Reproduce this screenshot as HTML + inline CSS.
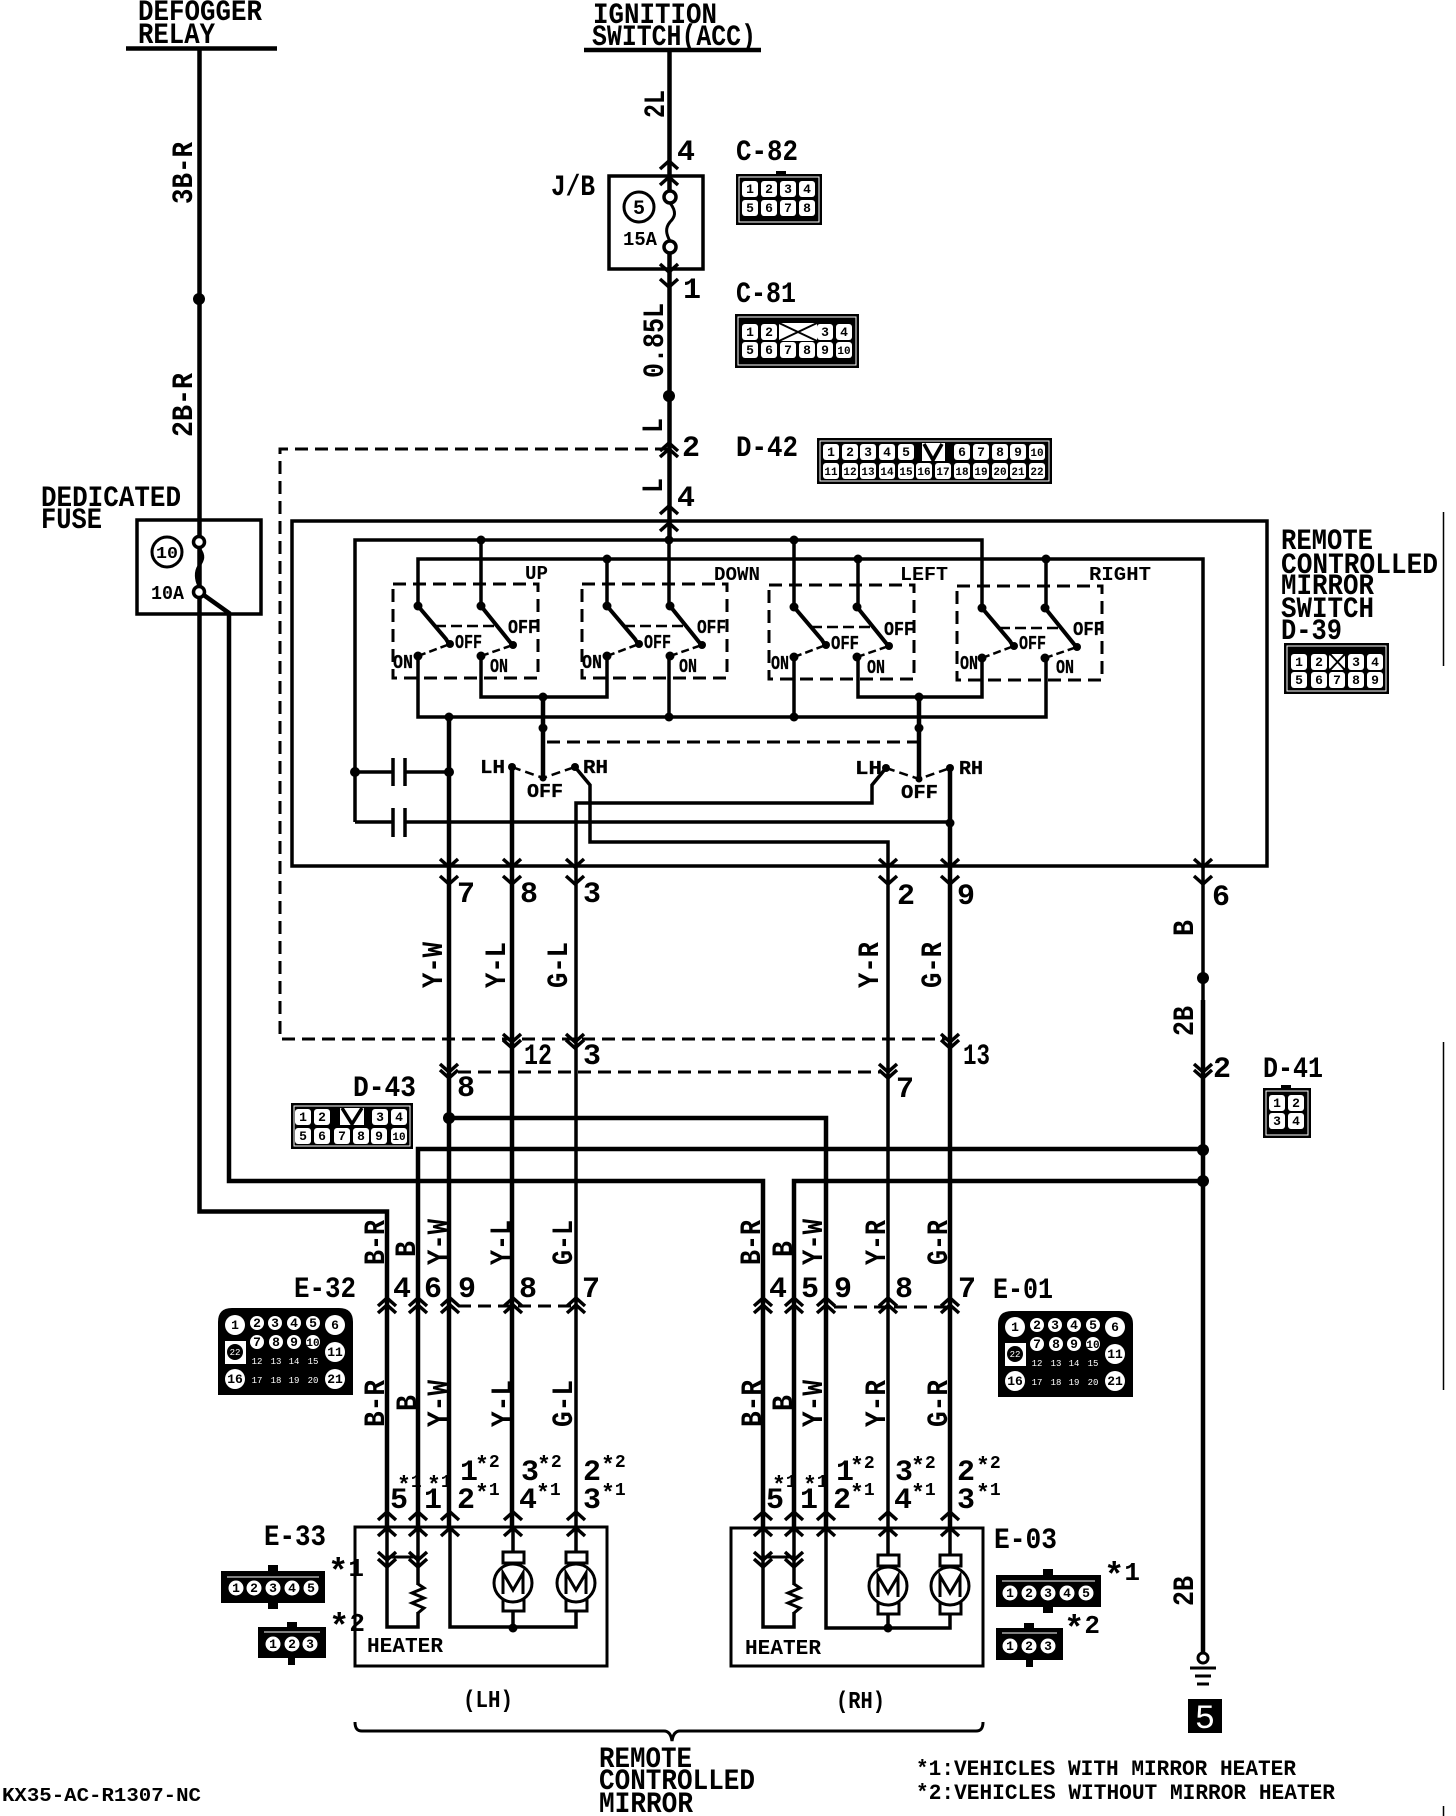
<!DOCTYPE html>
<html><head><meta charset="utf-8"><style>
html,body{margin:0;padding:0;background:#fff}
svg{display:block}
text{font-family:"Liberation Mono",monospace;font-weight:bold;fill:#000}
.h{font-size:30px}.n{font-size:30px}.r{font-size:30px}.s{font-size:18px}.k{font-size:19px;stroke:#000;stroke-width:.3px}.c{font-size:13px;text-anchor:middle}.d{font-size:11px;text-anchor:middle}.w{font-size:9px;text-anchor:middle;fill:#fff;font-weight:normal}
.o{fill:none;stroke:#000;stroke-width:3.5;stroke-linejoin:miter}
.t{fill:none;stroke:#000;stroke-width:4.5}
.da{fill:none;stroke:#000;stroke-width:3;stroke-dasharray:13 7}
</style></head><body>
<svg width="1456" height="1816" viewBox="0 0 1456 1816" xmlns="http://www.w3.org/2000/svg">
<defs>
<path id="u" d="M-9 8L0 0L9 8" fill="none" stroke="#000" stroke-width="3.5"/>
<path id="v" d="M-9 -8L0 0L9 -8" fill="none" stroke="#000" stroke-width="3.5"/>
<g id="uu"><use href="#u" y="0"/><use href="#u" y="7"/></g>
<g id="sw">
<rect x="-25" y="-22" width="145" height="94" fill="none" stroke="#000" stroke-width="3" stroke-dasharray="13 7"/>
<path d="M0 0L28 33L31 38" fill="none" stroke="#000" stroke-width="4"/>
<path d="M63 0L92 36L95 39" fill="none" stroke="#000" stroke-width="4"/>
<circle cx="0" cy="0" r="4.5"/><circle cx="63" cy="0" r="4.5"/>
<circle cx="32" cy="38" r="4"/><circle cx="95" cy="39" r="4"/>
<circle cx="0" cy="50" r="4.5"/><circle cx="63" cy="50" r="4.5"/>
<path d="M0 50L32 38M63 50L95 39" fill="none" stroke="#000" stroke-width="2.5" stroke-dasharray="8 4"/>
<path d="M17 20H78" fill="none" stroke="#000" stroke-width="2.5" stroke-dasharray="11 5"/>
</g>
<rect id="q" x="-8" y="-8" width="16" height="16" rx="3" fill="#fff"/>
<g id="mo">
<rect x="-10" y="-31" width="21" height="11" fill="#fff" stroke="#000" stroke-width="3"/>
<rect x="-10" y="17" width="21" height="11" fill="#fff" stroke="#000" stroke-width="3"/>
<circle r="19" fill="#fff" stroke="#000" stroke-width="3"/>
<path d="M-10 11V-10L0 7L10 -10V11" fill="none" stroke="#000" stroke-width="3"/>
</g>
</defs>

<!-- top titles -->
<text class="h" x="138" y="20" textLength="124" lengthAdjust="spacingAndGlyphs">DEFOGGER</text>
<text class="h" x="138" y="43" textLength="77" lengthAdjust="spacingAndGlyphs">RELAY</text>
<path class="t" d="M126 48.500H277"/>
<text class="h" x="593" y="23" textLength="124" lengthAdjust="spacingAndGlyphs">IGNITION</text>
<text class="h" x="592" y="45" textLength="164" lengthAdjust="spacingAndGlyphs">SWITCH(ACC)</text>
<path class="t" d="M584 50H761"/>

<!-- defogger wires -->
<path class="t" d="M199.500 48V592M199.500 592V1211.500H387V1530"/>
<path class="t" d="M199.500 592L229 613V1181H763V1530"/>
<path class="o" d="M387 1530V1627H418V1612M763 1530V1627H794V1612"/>
<circle cx="199" cy="299" r="6"/>
<!-- fuse box 10 -->
<rect x="137" y="520" width="124" height="94" fill="none" stroke="#000" stroke-width="3.500"/>
<path d="M199 548C205 556 203 560 199 566C195 572 196 580 199 586" fill="none" stroke="#000" stroke-width="3"/>
<circle cx="199" cy="542" r="5.500" fill="#fff" stroke="#000" stroke-width="3.500"/>
<circle cx="199" cy="592" r="5.500" fill="#fff" stroke="#000" stroke-width="3.500"/>
<ellipse cx="167" cy="552" rx="15" ry="15" fill="none" stroke="#000" stroke-width="3"/>
<text x="167" y="558" font-size="17" text-anchor="middle" textLength="22" lengthAdjust="spacingAndGlyphs">10</text>
<text x="151" y="599" font-size="19" textLength="33" lengthAdjust="spacingAndGlyphs">10A</text>
<text class="h" x="41" y="506" textLength="140" lengthAdjust="spacingAndGlyphs">DEDICATED</text>
<text class="h" x="41" y="528" textLength="61" lengthAdjust="spacingAndGlyphs">FUSE</text>

<!-- ignition -->
<path class="t" d="M669.500 50V197M669.500 247V540"/>
<rect x="609" y="176" width="94" height="93" fill="none" stroke="#000" stroke-width="3.500"/>
<path d="M670 203C677 212 675 217 670 222C665 228 666 234 670 241" fill="none" stroke="#000" stroke-width="3"/>
<circle cx="670" cy="197" r="6" fill="#fff" stroke="#000" stroke-width="3.500"/>
<circle cx="670" cy="247" r="6" fill="#fff" stroke="#000" stroke-width="3.500"/>
<circle cx="639" cy="207" r="15" fill="none" stroke="#000" stroke-width="3"/>
<text x="639" y="214" font-size="20" text-anchor="middle">5</text>
<text x="623" y="245" font-size="19" textLength="34" lengthAdjust="spacingAndGlyphs">15A</text>
<text class="n" x="551" y="195" textLength="44" lengthAdjust="spacingAndGlyphs">J/B</text>
<use href="#u" x="669" y="161"/><use href="#u" x="669" y="177"/>
<use href="#v" x="669" y="272"/><use href="#v" x="669" y="287"/>
<circle cx="669" cy="396" r="6"/>
<use href="#u" x="669" y="443"/><use href="#u" x="669" y="449"/>
<use href="#u" x="669" y="506"/><use href="#u" x="669" y="523"/>
<path class="da" d="M668 449H280V1039H950"/>
<text class="n" x="677" y="160">4</text><text class="n" x="683" y="298">1</text>
<text class="n" x="682" y="456">2</text><text class="n" x="677" y="506">4</text>
<text class="n" x="736" y="160" textLength="62" lengthAdjust="spacingAndGlyphs">C-82</text>
<text class="n" x="736" y="302" textLength="60" lengthAdjust="spacingAndGlyphs">C-81</text>
<text class="n" x="736" y="456" textLength="62" lengthAdjust="spacingAndGlyphs">D-42</text>
<text class="r" transform="translate(192 204) rotate(-90)" textLength="62" lengthAdjust="spacingAndGlyphs">3B-R</text>
<text class="r" transform="translate(192 437) rotate(-90)" textLength="64" lengthAdjust="spacingAndGlyphs">2B-R</text>
<text class="r" transform="translate(664 118) rotate(-90)" textLength="28" lengthAdjust="spacingAndGlyphs">2L</text>
<text class="r" transform="translate(663 378) rotate(-90)" textLength="75" lengthAdjust="spacingAndGlyphs">0.85L</text>
<text class="r" transform="translate(662 433) rotate(-90)" textLength="15" lengthAdjust="spacingAndGlyphs">L</text>
<text class="r" transform="translate(662 493) rotate(-90)" textLength="15" lengthAdjust="spacingAndGlyphs">L</text>

<!-- switch outer box -->
<rect x="292" y="521" width="975" height="345" fill="none" stroke="#000" stroke-width="3.500"/>
<!-- buses -->
<path class="o" d="M355 822V540H982V607M418 606V559H1203V1000"/>
<path class="o" d="M481 540V606M794 540V606M607 559V606M858 559V606M1046 559V606M669 540V606"/>
<path class="o" d="M418 656V717H1046V656M481 656V697H607V656M669 656V717M794 656V717M858 656V697H982V656"/>
<path class="t" d="M543 697V778M919 697V779"/>
<use href="#sw" x="418" y="606"/><use href="#sw" x="607" y="606"/><use href="#sw" x="794" y="607"/><use href="#sw" x="982" y="608"/>
<path class="da" d="M547 742H919"/>
<text x="525" y="579" font-size="19" textLength="23" lengthAdjust="spacingAndGlyphs">UP</text>
<text x="714" y="580" font-size="19" textLength="46" lengthAdjust="spacingAndGlyphs">DOWN</text>
<text x="900" y="580" font-size="19" textLength="48" lengthAdjust="spacingAndGlyphs">LEFT</text>
<text x="1089" y="580" font-size="19" textLength="62" lengthAdjust="spacingAndGlyphs">RIGHT</text>
<text class="k" x="455" y="648" textLength="27" lengthAdjust="spacingAndGlyphs">OFF</text>
<text class="k" x="508" y="633" textLength="30" lengthAdjust="spacingAndGlyphs">OFF</text>
<text class="k" x="393" y="668" textLength="20" lengthAdjust="spacingAndGlyphs">ON</text>
<text class="k" x="490" y="672" textLength="18" lengthAdjust="spacingAndGlyphs">ON</text>
<text class="k" x="644" y="648" textLength="27" lengthAdjust="spacingAndGlyphs">OFF</text>
<text class="k" x="697" y="633" textLength="29" lengthAdjust="spacingAndGlyphs">OFF</text>
<text class="k" x="582" y="668" textLength="20" lengthAdjust="spacingAndGlyphs">ON</text>
<text class="k" x="679" y="672" textLength="18" lengthAdjust="spacingAndGlyphs">ON</text>
<text class="k" x="831" y="649" textLength="28" lengthAdjust="spacingAndGlyphs">OFF</text>
<text class="k" x="884" y="635" textLength="30" lengthAdjust="spacingAndGlyphs">OFF</text>
<text class="k" x="771" y="669" textLength="18" lengthAdjust="spacingAndGlyphs">ON</text>
<text class="k" x="867" y="673" textLength="18" lengthAdjust="spacingAndGlyphs">ON</text>
<text class="k" x="1019" y="649" textLength="27" lengthAdjust="spacingAndGlyphs">OFF</text>
<text class="k" x="1073" y="635" textLength="31" lengthAdjust="spacingAndGlyphs">OFF</text>
<text class="k" x="960" y="669" textLength="18" lengthAdjust="spacingAndGlyphs">ON</text>
<text class="k" x="1056" y="673" textLength="18" lengthAdjust="spacingAndGlyphs">ON</text>
<!-- caps -->
<path class="o" d="M355 772H393M405 772H449M355 822H393M405 822H950"/>
<path class="o" d="M393 758V786M405 758V786M393 808V837M405 808V837"/>
<!-- selector -->
<path d="M512 767L543 778L575 767M886 768L919 779L950 768" fill="none" stroke="#000" stroke-width="2.500" stroke-dasharray="9 5"/>
<path class="o" d="M575 767L590 785V842H888V1555M888 1612V1628"/>
<path class="o" d="M576 1555V803H872V785L886 768"/>
<path class="t" d="M449 717V1530"/>
<path class="o" d="M450 1530V1627H576V1600M513 1612V1627"/>
<path class="t" d="M512 767V1530"/>
<path class="o" d="M513 1530V1555"/>
<path class="t" d="M950 768V1530M826 1530V1118H449"/>
<path class="o" d="M950 1530V1555M950 1612V1628H826V1530"/>
<text class="k" x="480" y="773" textLength="25" lengthAdjust="spacingAndGlyphs">LH</text>
<text class="k" x="583" y="773" textLength="25" lengthAdjust="spacingAndGlyphs">RH</text>
<text class="k" x="527" y="797" textLength="36" lengthAdjust="spacingAndGlyphs">OFF</text>
<text class="k" x="855" y="774" textLength="27" lengthAdjust="spacingAndGlyphs">LH</text>
<text class="k" x="959" y="774" textLength="24" lengthAdjust="spacingAndGlyphs">RH</text>
<text class="k" x="901" y="798" textLength="37" lengthAdjust="spacingAndGlyphs">OFF</text>
<g>
<circle cx="481" cy="540" r="4.500"/><circle cx="669" cy="540" r="4.500"/><circle cx="794" cy="540" r="4.500"/>
<circle cx="607" cy="559" r="4.500"/><circle cx="858" cy="559" r="4.500"/><circle cx="1046" cy="559" r="4.500"/>
<circle cx="449" cy="717" r="4.500"/><circle cx="669" cy="717" r="4.500"/><circle cx="794" cy="717" r="4.500"/>
<circle cx="543" cy="697" r="4.500"/><circle cx="919" cy="697" r="4.500"/>
<circle cx="543" cy="728" r="4.500"/><circle cx="919" cy="728" r="4.500"/>
<circle cx="355" cy="772" r="5"/><circle cx="449" cy="772" r="5"/><circle cx="950" cy="823" r="4.500"/>
<circle cx="512" cy="767" r="4"/><circle cx="575" cy="767" r="4"/><circle cx="886" cy="768" r="4"/><circle cx="950" cy="768" r="4"/>
<circle cx="543" cy="778" r="3.500"/><circle cx="919" cy="779" r="3.500"/>
</g>

<!-- chevrons at box bottom -->
<use href="#v" x="449" y="867"/><use href="#v" x="449" y="884"/>
<use href="#v" x="512" y="867"/><use href="#v" x="512" y="884"/>
<use href="#v" x="575" y="867"/><use href="#v" x="575" y="884"/>
<use href="#v" x="888" y="867"/><use href="#v" x="888" y="884"/>
<use href="#v" x="950" y="867"/><use href="#v" x="950" y="884"/>
<use href="#v" x="1203" y="867"/><use href="#v" x="1203" y="884"/>
<text class="n" x="457" y="902">7</text><text class="n" x="520" y="902">8</text><text class="n" x="583" y="902">3</text>
<text class="n" x="897" y="904">2</text><text class="n" x="957" y="904">9</text><text class="n" x="1212" y="905">6</text>
<text class="r" transform="translate(442 988) rotate(-90)" textLength="46" lengthAdjust="spacingAndGlyphs">Y-W</text>
<text class="r" transform="translate(505 988) rotate(-90)" textLength="46" lengthAdjust="spacingAndGlyphs">Y-L</text>
<text class="r" transform="translate(567 988) rotate(-90)" textLength="46" lengthAdjust="spacingAndGlyphs">G-L</text>
<text class="r" transform="translate(878 988) rotate(-90)" textLength="46" lengthAdjust="spacingAndGlyphs">Y-R</text>
<text class="r" transform="translate(941 988) rotate(-90)" textLength="46" lengthAdjust="spacingAndGlyphs">G-R</text>
<text class="r" transform="translate(1193 936) rotate(-90)" textLength="16" lengthAdjust="spacingAndGlyphs">B</text>
<text class="r" transform="translate(1193 1036) rotate(-90)" textLength="30" lengthAdjust="spacingAndGlyphs">2B</text>
<circle cx="1203" cy="978" r="6"/>

<!-- D-4x splices -->
<path class="da" d="M458 1072H880"/>
<use href="#v" x="512" y="1042"/><use href="#v" x="512" y="1048"/>
<use href="#v" x="575" y="1042"/><use href="#v" x="575" y="1048"/>
<use href="#v" x="950" y="1042"/><use href="#v" x="950" y="1048"/>
<use href="#v" x="449" y="1072"/><use href="#v" x="449" y="1078"/>
<use href="#v" x="888" y="1072"/><use href="#v" x="888" y="1078"/>
<use href="#v" x="1203" y="1072"/><use href="#v" x="1203" y="1078"/>
<text class="n" x="524" y="1064" textLength="28" lengthAdjust="spacingAndGlyphs">12</text>
<text class="n" x="583" y="1064">3</text>
<text class="n" x="963" y="1064" textLength="27" lengthAdjust="spacingAndGlyphs">13</text>
<text class="n" x="457" y="1096">8</text><text class="n" x="896" y="1097">7</text>
<text class="n" x="1213" y="1077">2</text>
<text class="n" x="353" y="1096" textLength="63" lengthAdjust="spacingAndGlyphs">D-43</text>
<text class="n" x="1263" y="1077" textLength="60" lengthAdjust="spacingAndGlyphs">D-41</text>
<circle cx="449" cy="1118" r="6"/>

<!-- long horizontals -->
<path class="t" d="M418 1530V1149H1203"/>
<path class="t" d="M794 1530V1181H1203"/>
<path class="o" d="M418 1530V1585M794 1530V1585"/>
<circle cx="1203" cy="1150" r="6"/><circle cx="1203" cy="1181" r="6"/>

<!-- lower rotated labels -->
<text class="r" transform="translate(384 1265) rotate(-90)" textLength="45" lengthAdjust="spacingAndGlyphs">B-R</text>
<text class="r" transform="translate(415 1257) rotate(-90)" textLength="16" lengthAdjust="spacingAndGlyphs">B</text>
<text class="r" transform="translate(447 1265) rotate(-90)" textLength="46" lengthAdjust="spacingAndGlyphs">Y-W</text>
<text class="r" transform="translate(510 1265) rotate(-90)" textLength="45" lengthAdjust="spacingAndGlyphs">Y-L</text>
<text class="r" transform="translate(572 1265) rotate(-90)" textLength="45" lengthAdjust="spacingAndGlyphs">G-L</text>
<text class="r" transform="translate(760 1265) rotate(-90)" textLength="45" lengthAdjust="spacingAndGlyphs">B-R</text>
<text class="r" transform="translate(792 1257) rotate(-90)" textLength="16" lengthAdjust="spacingAndGlyphs">B</text>
<text class="r" transform="translate(822 1265) rotate(-90)" textLength="46" lengthAdjust="spacingAndGlyphs">Y-W</text>
<text class="r" transform="translate(885 1265) rotate(-90)" textLength="45" lengthAdjust="spacingAndGlyphs">Y-R</text>
<text class="r" transform="translate(947 1265) rotate(-90)" textLength="45" lengthAdjust="spacingAndGlyphs">G-R</text>

<text class="n" x="393" y="1297">4</text><text class="n" x="424" y="1297">6</text><text class="n" x="458" y="1297">9</text><text class="n" x="519" y="1297">8</text><text class="n" x="582" y="1297">7</text>
<text class="n" x="294" y="1297" textLength="62" lengthAdjust="spacingAndGlyphs">E-32</text>
<text class="n" x="769" y="1297">4</text><text class="n" x="801" y="1297">5</text><text class="n" x="834" y="1297">9</text><text class="n" x="895" y="1297">8</text><text class="n" x="958" y="1297">7</text>
<text class="n" x="993" y="1298" textLength="60" lengthAdjust="spacingAndGlyphs">E-01</text>
<path class="da" d="M458 1306H576M834 1307H950"/>
<use href="#uu" x="387" y="1298"/><use href="#uu" x="418" y="1298"/><use href="#uu" x="450" y="1298"/><use href="#uu" x="513" y="1298"/><use href="#uu" x="576" y="1298"/>
<use href="#uu" x="763" y="1298"/><use href="#uu" x="794" y="1298"/><use href="#uu" x="826" y="1298"/><use href="#uu" x="888" y="1298"/><use href="#uu" x="950" y="1298"/>

<text class="r" transform="translate(384 1427) rotate(-90)" textLength="47" lengthAdjust="spacingAndGlyphs">B-R</text>
<text class="r" transform="translate(416 1411) rotate(-90)" textLength="16" lengthAdjust="spacingAndGlyphs">B</text>
<text class="r" transform="translate(447 1427) rotate(-90)" textLength="47" lengthAdjust="spacingAndGlyphs">Y-W</text>
<text class="r" transform="translate(511 1427) rotate(-90)" textLength="47" lengthAdjust="spacingAndGlyphs">Y-L</text>
<text class="r" transform="translate(572 1427) rotate(-90)" textLength="47" lengthAdjust="spacingAndGlyphs">G-L</text>
<text class="r" transform="translate(761 1427) rotate(-90)" textLength="47" lengthAdjust="spacingAndGlyphs">B-R</text>
<text class="r" transform="translate(792 1411) rotate(-90)" textLength="16" lengthAdjust="spacingAndGlyphs">B</text>
<text class="r" transform="translate(822 1427) rotate(-90)" textLength="47" lengthAdjust="spacingAndGlyphs">Y-W</text>
<text class="r" transform="translate(885 1427) rotate(-90)" textLength="47" lengthAdjust="spacingAndGlyphs">Y-R</text>
<text class="r" transform="translate(947 1427) rotate(-90)" textLength="47" lengthAdjust="spacingAndGlyphs">G-R</text>

<!-- pin numbers LH -->
<text class="n" x="390" y="1508">5</text><text class="s" x="397" y="1487"><tspan dy="5" font-size="23">*</tspan><tspan dy="-5">1</tspan></text>
<text class="n" x="424" y="1508">1</text><text class="s" x="427" y="1487"><tspan dy="5" font-size="23">*</tspan><tspan dy="-5">1</tspan></text>
<text class="n" x="460" y="1480">1</text><text class="s" x="475" y="1467"><tspan dy="5" font-size="23">*</tspan><tspan dy="-5">2</tspan></text>
<text class="n" x="457" y="1508">2</text><text class="s" x="475" y="1495"><tspan dy="5" font-size="23">*</tspan><tspan dy="-5">1</tspan></text>
<text class="n" x="521" y="1480">3</text><text class="s" x="537" y="1467"><tspan dy="5" font-size="23">*</tspan><tspan dy="-5">2</tspan></text>
<text class="n" x="519" y="1508">4</text><text class="s" x="536" y="1495"><tspan dy="5" font-size="23">*</tspan><tspan dy="-5">1</tspan></text>
<text class="n" x="583" y="1480">2</text><text class="s" x="601" y="1467"><tspan dy="5" font-size="23">*</tspan><tspan dy="-5">2</tspan></text>
<text class="n" x="583" y="1508">3</text><text class="s" x="601" y="1495"><tspan dy="5" font-size="23">*</tspan><tspan dy="-5">1</tspan></text>
<!-- pin numbers RH -->
<text class="n" x="766" y="1508">5</text><text class="s" x="772" y="1487"><tspan dy="5" font-size="23">*</tspan><tspan dy="-5">1</tspan></text>
<text class="n" x="800" y="1508">1</text><text class="s" x="803" y="1487"><tspan dy="5" font-size="23">*</tspan><tspan dy="-5">1</tspan></text>
<text class="n" x="836" y="1480">1</text><text class="s" x="850" y="1468"><tspan dy="5" font-size="23">*</tspan><tspan dy="-5">2</tspan></text>
<text class="n" x="833" y="1508">2</text><text class="s" x="850" y="1495"><tspan dy="5" font-size="23">*</tspan><tspan dy="-5">1</tspan></text>
<text class="n" x="895" y="1480">3</text><text class="s" x="911" y="1468"><tspan dy="5" font-size="23">*</tspan><tspan dy="-5">2</tspan></text>
<text class="n" x="894" y="1508">4</text><text class="s" x="911" y="1495"><tspan dy="5" font-size="23">*</tspan><tspan dy="-5">1</tspan></text>
<text class="n" x="957" y="1480">2</text><text class="s" x="976" y="1468"><tspan dy="5" font-size="23">*</tspan><tspan dy="-5">2</tspan></text>
<text class="n" x="957" y="1508">3</text><text class="s" x="976" y="1495"><tspan dy="5" font-size="23">*</tspan><tspan dy="-5">1</tspan></text>

<!-- mirror boxes -->
<rect x="355" y="1527" width="252" height="139" fill="none" stroke="#000" stroke-width="3"/>
<rect x="731" y="1528" width="252" height="138" fill="none" stroke="#000" stroke-width="3"/>
<use href="#u" x="387" y="1512"/><use href="#u" x="387" y="1528"/>
<use href="#u" x="418" y="1512"/><use href="#u" x="418" y="1528"/>
<use href="#u" x="450" y="1512"/><use href="#u" x="450" y="1528"/>
<use href="#u" x="513" y="1512"/><use href="#u" x="513" y="1528"/>
<use href="#u" x="576" y="1512"/><use href="#u" x="576" y="1528"/>
<use href="#u" x="763" y="1512"/><use href="#u" x="763" y="1528"/>
<use href="#u" x="794" y="1512"/><use href="#u" x="794" y="1528"/>
<use href="#u" x="826" y="1512"/><use href="#u" x="826" y="1528"/>
<use href="#u" x="888" y="1512"/><use href="#u" x="888" y="1528"/>
<use href="#u" x="950" y="1512"/><use href="#u" x="950" y="1528"/>
<!-- heater LH -->
<path d="M387 1557H418M763 1557H794" fill="none" stroke="#000" stroke-width="3"/>
<use href="#v" x="387" y="1560"/><use href="#v" x="387" y="1567"/><use href="#v" x="418" y="1560"/><use href="#v" x="418" y="1567"/>
<use href="#v" x="763" y="1560"/><use href="#v" x="763" y="1567"/><use href="#v" x="794" y="1560"/><use href="#v" x="794" y="1567"/>
<path d="M418 1584L424 1588L412 1593L424 1598L412 1603L424 1608L418 1613" fill="none" stroke="#000" stroke-width="3"/>
<path d="M794 1584L800 1588L788 1593L800 1598L788 1603L800 1608L794 1613" fill="none" stroke="#000" stroke-width="3"/>
<use href="#mo" x="513" y="1583"/><use href="#mo" x="576" y="1583"/><use href="#mo" x="888" y="1586"/><use href="#mo" x="950" y="1586"/>
<circle cx="513" cy="1628" r="4.500"/><circle cx="888" cy="1628" r="4.500"/>
<text x="367" y="1652" font-size="21" textLength="76" lengthAdjust="spacingAndGlyphs">HEATER</text>
<text x="745" y="1654" font-size="21" textLength="76" lengthAdjust="spacingAndGlyphs">HEATER</text>
<text class="n" x="264" y="1545" textLength="62" lengthAdjust="spacingAndGlyphs">E-33</text>
<text class="n" x="994" y="1548" textLength="63" lengthAdjust="spacingAndGlyphs">E-03</text>
<text class="n" x="328" y="1576"><tspan dy="6" font-size="34">*</tspan><tspan dy="-6" font-size="26">1</tspan></text>
<text class="n" x="329" y="1631"><tspan dy="6" font-size="34">*</tspan><tspan dy="-6" font-size="26">2</tspan></text>
<text class="n" x="1104" y="1580"><tspan dy="6" font-size="34">*</tspan><tspan dy="-6" font-size="26">1</tspan></text>
<text class="n" x="1064" y="1633"><tspan dy="6" font-size="34">*</tspan><tspan dy="-6" font-size="26">2</tspan></text>

<!-- ground -->
<path class="t" d="M1203 1000V1654"/>
<circle cx="1203" cy="1658" r="5" fill="#fff" stroke="#000" stroke-width="3"/>
<path d="M1190 1668H1216M1195 1676H1211M1197 1684H1209" stroke="#000" stroke-width="3" fill="none"/>
<text class="r" transform="translate(1193 1606) rotate(-90)" textLength="30" lengthAdjust="spacingAndGlyphs">2B</text>
<rect x="1188" y="1699" width="34" height="34"/>
<text x="1205" y="1728" font-size="34" text-anchor="middle" style="fill:#fff;font-weight:normal">5</text>

<!-- bottom -->
<text x="463" y="1707" font-size="24" textLength="50" lengthAdjust="spacingAndGlyphs">(LH)</text>
<text x="836" y="1708" font-size="24" textLength="49" lengthAdjust="spacingAndGlyphs">(RH)</text>
<path d="M355 1722C355 1728 357 1731 362 1731H664C668 1731 671 1734 672 1741C673 1734 676 1731 680 1731H976C981 1731 983 1728 983 1722" fill="none" stroke="#000" stroke-width="3"/>
<text class="h" x="599" y="1767" textLength="93" lengthAdjust="spacingAndGlyphs">REMOTE</text>
<text class="h" x="599" y="1789" textLength="156" lengthAdjust="spacingAndGlyphs">CONTROLLED</text>
<text class="h" x="599" y="1812" textLength="94" lengthAdjust="spacingAndGlyphs">MIRROR</text>
<text x="916" y="1775" font-size="22" textLength="380" lengthAdjust="spacingAndGlyphs">*1:VEHICLES WITH MIRROR HEATER</text>
<text x="916" y="1799" font-size="22" textLength="419" lengthAdjust="spacingAndGlyphs">*2:VEHICLES WITHOUT MIRROR HEATER</text>
<text x="2" y="1801" font-size="19" textLength="199" lengthAdjust="spacingAndGlyphs">KX35-AC-R1307-NC</text>

<!-- D-39 label -->
<text class="h" x="1281" y="549" textLength="92" lengthAdjust="spacingAndGlyphs">REMOTE</text>
<text class="h" x="1281" y="573" textLength="157" lengthAdjust="spacingAndGlyphs">CONTROLLED</text>
<text class="h" x="1281" y="594" textLength="93" lengthAdjust="spacingAndGlyphs">MIRROR</text>
<text class="h" x="1281" y="617" textLength="93" lengthAdjust="spacingAndGlyphs">SWITCH</text>
<text class="n" x="1281" y="639" textLength="61" lengthAdjust="spacingAndGlyphs">D-39</text>

<!-- edge marks -->
<path d="M1443.500 512V666M1443.500 1042V1390M1443.500 1806V1816" stroke="#000" stroke-width="1.500" fill="none"/>

<!-- connector C-82 -->
<g>
<rect x="736" y="174" width="86" height="51"/><rect x="776" y="171" width="10" height="4"/>
<rect x="739" y="177" width="80" height="45" fill="none" stroke="#fff"/>
<use href="#q" x="750" y="189"/><use href="#q" x="769" y="189"/><use href="#q" x="788" y="189"/><use href="#q" x="807" y="189"/>
<use href="#q" x="750" y="208"/><use href="#q" x="769" y="208"/><use href="#q" x="788" y="208"/><use href="#q" x="807" y="208"/>
<text class="c" x="750" y="193">1</text><text class="c" x="769" y="193">2</text><text class="c" x="788" y="193">3</text><text class="c" x="807" y="193">4</text>
<text class="c" x="750" y="212">5</text><text class="c" x="769" y="212">6</text><text class="c" x="788" y="212">7</text><text class="c" x="807" y="212">8</text>
</g>
<!-- C-81 -->
<g>
<rect x="735" y="314" width="124" height="54"/>
<rect x="738" y="317" width="118" height="48" fill="none" stroke="#fff"/>
<rect x="779" y="323" width="38" height="18" fill="#fff"/><path d="M779 323L817 341M817 323L779 341" stroke="#000" stroke-width="2"/>
<use href="#q" x="750" y="332"/><use href="#q" x="769" y="332"/><use href="#q" x="825" y="332"/><use href="#q" x="844" y="332"/>
<use href="#q" x="750" y="350"/><use href="#q" x="769" y="350"/><use href="#q" x="788" y="350"/><use href="#q" x="807" y="350"/><use href="#q" x="825" y="350"/><use href="#q" x="844" y="350"/>
<text class="c" x="750" y="336">1</text><text class="c" x="769" y="336">2</text><text class="c" x="825" y="336">3</text><text class="c" x="844" y="336">4</text>
<text class="c" x="750" y="354">5</text><text class="c" x="769" y="354">6</text><text class="c" x="788" y="354">7</text><text class="c" x="807" y="354">8</text><text class="c" x="825" y="354">9</text><text class="d" x="844" y="354">10</text>
</g>
<!-- D-42 -->
<g>
<rect x="817" y="438" width="235" height="46"/>
<rect x="820" y="441" width="229" height="40" fill="none" stroke="#fff"/>
<use href="#q" x="831" y="452"/><use href="#q" x="850" y="452"/><use href="#q" x="868" y="452"/><use href="#q" x="887" y="452"/><use href="#q" x="906" y="452"/><use href="#q" x="962" y="452"/><use href="#q" x="981" y="452"/><use href="#q" x="1000" y="452"/><use href="#q" x="1018" y="452"/><use href="#q" x="1037" y="452"/>
<rect x="922" y="443" width="23" height="18" fill="#fff"/><path d="M924 444L933 460L942 444" fill="none" stroke="#000" stroke-width="3.500"/>
<use href="#q" x="831" y="471"/><use href="#q" x="850" y="471"/><use href="#q" x="868" y="471"/><use href="#q" x="887" y="471"/><use href="#q" x="906" y="471"/><use href="#q" x="924" y="471"/><use href="#q" x="943" y="471"/><use href="#q" x="962" y="471"/><use href="#q" x="981" y="471"/><use href="#q" x="1000" y="471"/><use href="#q" x="1018" y="471"/><use href="#q" x="1037" y="471"/>
<text class="c" x="831" y="456">1</text><text class="c" x="850" y="456">2</text><text class="c" x="868" y="456">3</text><text class="c" x="887" y="456">4</text><text class="c" x="906" y="456">5</text><text class="c" x="962" y="456">6</text><text class="c" x="981" y="456">7</text><text class="c" x="1000" y="456">8</text><text class="c" x="1018" y="456">9</text><text class="d" x="1037" y="456">10</text>
<text class="d" x="831" y="475">11</text><text class="d" x="850" y="475">12</text><text class="d" x="868" y="475">13</text><text class="d" x="887" y="475">14</text><text class="d" x="906" y="475">15</text><text class="d" x="924" y="475">16</text><text class="d" x="943" y="475">17</text><text class="d" x="962" y="475">18</text><text class="d" x="981" y="475">19</text><text class="d" x="1000" y="475">20</text><text class="d" x="1018" y="475">21</text><text class="d" x="1037" y="475">22</text>
</g>
<!-- D-39 conn -->
<g>
<rect x="1284" y="643" width="105" height="51"/>
<rect x="1287" y="646" width="99" height="45" fill="none" stroke="#fff"/>
<use href="#q" x="1299" y="662"/><use href="#q" x="1319" y="662"/><use href="#q" x="1337" y="662"/><use href="#q" x="1356" y="662"/><use href="#q" x="1375" y="662"/>
<path d="M1330 654L1345 670M1345 654L1330 670" stroke="#000" stroke-width="2"/>
<use href="#q" x="1299" y="680"/><use href="#q" x="1319" y="680"/><use href="#q" x="1337" y="680"/><use href="#q" x="1356" y="680"/><use href="#q" x="1375" y="680"/>
<text class="c" x="1299" y="666">1</text><text class="c" x="1319" y="666">2</text><text class="c" x="1356" y="666">3</text><text class="c" x="1375" y="666">4</text>
<text class="c" x="1299" y="684">5</text><text class="c" x="1319" y="684">6</text><text class="c" x="1337" y="684">7</text><text class="c" x="1356" y="684">8</text><text class="c" x="1375" y="684">9</text>
</g>
<!-- D-43 conn -->
<g>
<rect x="291" y="1103" width="122" height="46"/>
<rect x="294" y="1106" width="116" height="40" fill="none" stroke="#fff"/>
<use href="#q" x="303" y="1117"/><use href="#q" x="322" y="1117"/><use href="#q" x="380" y="1117"/><use href="#q" x="399" y="1117"/>
<rect x="340" y="1108" width="24" height="17" fill="#fff"/><path d="M342 1108L352 1124L362 1108" fill="none" stroke="#000" stroke-width="3.500"/>
<use href="#q" x="303" y="1136"/><use href="#q" x="322" y="1136"/><use href="#q" x="342" y="1136"/><use href="#q" x="361" y="1136"/><use href="#q" x="379" y="1136"/><use href="#q" x="399" y="1136"/>
<text class="c" x="303" y="1121">1</text><text class="c" x="322" y="1121">2</text><text class="c" x="380" y="1121">3</text><text class="c" x="399" y="1121">4</text>
<text class="c" x="303" y="1140">5</text><text class="c" x="322" y="1140">6</text><text class="c" x="342" y="1140">7</text><text class="c" x="361" y="1140">8</text><text class="c" x="379" y="1140">9</text><text class="d" x="399" y="1140">10</text>
</g>
<!-- D-41 conn -->
<g>
<rect x="1263" y="1088" width="48" height="50"/><rect x="1281" y="1085" width="10" height="4"/>
<rect x="1266" y="1091" width="42" height="44" fill="none" stroke="#fff"/>
<use href="#q" x="1277" y="1103"/><use href="#q" x="1296" y="1103"/><use href="#q" x="1277" y="1121"/><use href="#q" x="1296" y="1121"/>
<text class="c" x="1277" y="1107">1</text><text class="c" x="1296" y="1107">2</text><text class="c" x="1277" y="1125">3</text><text class="c" x="1296" y="1125">4</text>
</g>
<!-- E-32 conn -->
<g>
<path d="M218 1395V1322Q218 1308 232 1308H339Q353 1308 353 1322V1395Z"/>
<circle cx="235" cy="1325" r="10" fill="#fff"/><circle cx="257" cy="1323" r="7" fill="#fff"/><circle cx="275" cy="1323" r="7" fill="#fff"/><circle cx="294" cy="1323" r="7" fill="#fff"/><circle cx="313" cy="1323" r="7" fill="#fff"/><circle cx="335" cy="1325" r="10" fill="#fff"/>
<circle cx="257" cy="1342" r="7" fill="#fff"/><circle cx="276" cy="1342" r="7" fill="#fff"/><circle cx="294" cy="1342" r="7" fill="#fff"/><circle cx="313" cy="1342" r="7" fill="#fff"/>
<rect x="225" y="1341" width="21" height="23" fill="#fff"/><circle cx="235" cy="1352" r="8"/>
<circle cx="335" cy="1352" r="10" fill="#fff"/><circle cx="235" cy="1379" r="10" fill="#fff"/><circle cx="335" cy="1379" r="10" fill="#fff"/>
<text class="c" x="235" y="1329">1</text><text class="c" x="257" y="1327">2</text><text class="c" x="275" y="1327">3</text><text class="c" x="294" y="1327">4</text><text class="c" x="313" y="1327">5</text><text class="c" x="335" y="1329">6</text>
<text class="c" x="257" y="1346">7</text><text class="c" x="276" y="1346">8</text><text class="c" x="294" y="1346">9</text><text class="d" x="313" y="1346">10</text>
<text class="c" x="335" y="1356">11</text><text class="c" x="235" y="1383">16</text><text class="c" x="335" y="1383">21</text>
<text class="w" x="235" y="1355">22</text>
<text class="w" x="257" y="1364">12</text><text class="w" x="276" y="1364">13</text><text class="w" x="294" y="1364">14</text><text class="w" x="313" y="1364">15</text>
<text class="w" x="257" y="1383">17</text><text class="w" x="276" y="1383">18</text><text class="w" x="294" y="1383">19</text><text class="w" x="313" y="1383">20</text>
</g>
<!-- E-01 conn -->
<g>
<path d="M998 1397V1324Q998 1311 1012 1311H1119Q1133 1311 1133 1324V1397Z"/>
<circle cx="1015" cy="1327" r="10" fill="#fff"/><circle cx="1037" cy="1325" r="7" fill="#fff"/><circle cx="1055" cy="1325" r="7" fill="#fff"/><circle cx="1074" cy="1325" r="7" fill="#fff"/><circle cx="1093" cy="1325" r="7" fill="#fff"/><circle cx="1115" cy="1327" r="10" fill="#fff"/>
<circle cx="1037" cy="1344" r="7" fill="#fff"/><circle cx="1056" cy="1344" r="7" fill="#fff"/><circle cx="1074" cy="1344" r="7" fill="#fff"/><circle cx="1093" cy="1344" r="7" fill="#fff"/>
<rect x="1005" y="1343" width="21" height="23" fill="#fff"/><circle cx="1015" cy="1354" r="8"/>
<circle cx="1115" cy="1354" r="10" fill="#fff"/><circle cx="1015" cy="1381" r="10" fill="#fff"/><circle cx="1115" cy="1381" r="10" fill="#fff"/>
<text class="c" x="1015" y="1331">1</text><text class="c" x="1037" y="1329">2</text><text class="c" x="1055" y="1329">3</text><text class="c" x="1074" y="1329">4</text><text class="c" x="1093" y="1329">5</text><text class="c" x="1115" y="1331">6</text>
<text class="c" x="1037" y="1348">7</text><text class="c" x="1056" y="1348">8</text><text class="c" x="1074" y="1348">9</text><text class="d" x="1093" y="1348">10</text>
<text class="c" x="1115" y="1358">11</text><text class="c" x="1015" y="1385">16</text><text class="c" x="1115" y="1385">21</text>
<text class="w" x="1015" y="1357">22</text>
<text class="w" x="1037" y="1366">12</text><text class="w" x="1056" y="1366">13</text><text class="w" x="1074" y="1366">14</text><text class="w" x="1093" y="1366">15</text>
<text class="w" x="1037" y="1385">17</text><text class="w" x="1056" y="1385">18</text><text class="w" x="1074" y="1385">19</text><text class="w" x="1093" y="1385">20</text>
</g>
<!-- E-33 conns -->
<g>
<rect x="221" y="1571" width="104" height="32"/><rect x="268" y="1565" width="10" height="7"/><rect x="268" y="1602" width="10" height="7"/>
<path d="M227 1577H319" stroke="#fff" fill="none"/>
<circle cx="236" cy="1588" r="7.500" fill="#fff"/><circle cx="254" cy="1588" r="7.500" fill="#fff"/><circle cx="273" cy="1588" r="7.500" fill="#fff"/><circle cx="292" cy="1588" r="7.500" fill="#fff"/><circle cx="311" cy="1588" r="7.500" fill="#fff"/>
<text class="c" x="236" y="1592">1</text><text class="c" x="254" y="1592">2</text><text class="c" x="273" y="1592">3</text><text class="c" x="292" y="1592">4</text><text class="c" x="311" y="1592">5</text>
<rect x="258" y="1627" width="68" height="31"/><rect x="287" y="1622" width="10" height="6"/><rect x="288" y="1657" width="7" height="8"/>
<path d="M264 1632H320" stroke="#fff" fill="none"/>
<circle cx="273" cy="1644" r="7.500" fill="#fff"/><circle cx="292" cy="1644" r="7.500" fill="#fff"/><circle cx="310" cy="1644" r="7.500" fill="#fff"/>
<text class="c" x="273" y="1648">1</text><text class="c" x="292" y="1648">2</text><text class="c" x="310" y="1648">3</text>
</g>
<!-- E-03 conns -->
<g>
<rect x="996" y="1575" width="105" height="32"/><rect x="1043" y="1569" width="10" height="7"/><rect x="1043" y="1606" width="10" height="7"/>
<path d="M1002 1581H1095" stroke="#fff" fill="none"/>
<circle cx="1010" cy="1593" r="7.500" fill="#fff"/><circle cx="1029" cy="1593" r="7.500" fill="#fff"/><circle cx="1048" cy="1593" r="7.500" fill="#fff"/><circle cx="1067" cy="1593" r="7.500" fill="#fff"/><circle cx="1086" cy="1593" r="7.500" fill="#fff"/>
<text class="c" x="1010" y="1597">1</text><text class="c" x="1029" y="1597">2</text><text class="c" x="1048" y="1597">3</text><text class="c" x="1067" y="1597">4</text><text class="c" x="1086" y="1597">5</text>
<rect x="996" y="1628" width="67" height="32"/><rect x="1024" y="1623" width="10" height="6"/><rect x="1026" y="1659" width="7" height="8"/>
<path d="M1002 1633H1057" stroke="#fff" fill="none"/>
<circle cx="1010" cy="1646" r="7.500" fill="#fff"/><circle cx="1029" cy="1646" r="7.500" fill="#fff"/><circle cx="1048" cy="1646" r="7.500" fill="#fff"/>
<text class="c" x="1010" y="1650">1</text><text class="c" x="1029" y="1650">2</text><text class="c" x="1048" y="1650">3</text>
</g>
</svg>
</body></html>
